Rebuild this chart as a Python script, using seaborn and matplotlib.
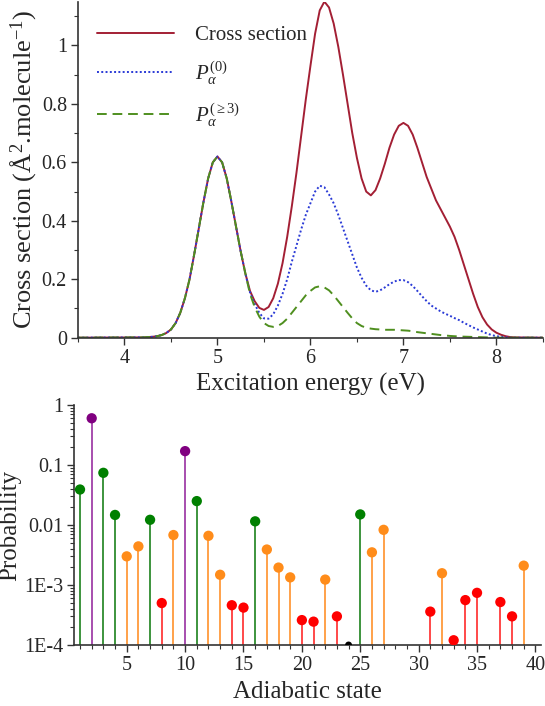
import matplotlib
matplotlib.use('Agg')
import matplotlib.pyplot as plt
import matplotlib.ticker as mticker
import pandas as pd
import seaborn as sns

# --- top panel: cross section vs excitation energy ---
energy = [3.5,
          4.20, 4.25, 4.30, 4.35, 4.40, 4.45, 4.50, 4.55, 4.60, 4.65,
          4.70, 4.75, 4.80, 4.85, 4.90, 4.95, 5.00, 5.05, 5.10, 5.15,
          5.20, 5.25, 5.30, 5.35, 5.40, 5.45, 5.50, 5.55, 5.60, 5.65,
          5.70, 5.75, 5.80, 5.85, 5.90, 5.95, 6.00, 6.05, 6.10, 6.15,
          6.20, 6.25, 6.30, 6.35, 6.40, 6.45, 6.50, 6.55, 6.60, 6.65,
          6.70, 6.75, 6.80, 6.85, 6.90, 6.95, 7.00, 7.05, 7.10, 7.15,
          7.20, 7.25, 7.30, 7.35, 7.40, 7.45, 7.50, 7.55, 7.60, 7.65,
          7.70, 7.75, 7.80, 7.85, 7.90, 7.95, 8.00, 8.05, 8.10, 8.15,
          8.20, 8.5]
cross_section = [0,
                 0.001, 0.002, 0.003, 0.005, 0.009, 0.016, 0.028, 0.05, 0.085, 0.135,
                 0.2, 0.285, 0.375, 0.465, 0.545, 0.6, 0.62, 0.6, 0.545, 0.465,
                 0.38, 0.295, 0.22, 0.16, 0.125, 0.102, 0.095, 0.105, 0.135, 0.185,
                 0.255, 0.345, 0.45, 0.565, 0.69, 0.815, 0.93, 1.04, 1.12, 1.15,
                 1.13, 1.075, 0.995, 0.9, 0.8, 0.7, 0.615, 0.545, 0.5, 0.487,
                 0.505, 0.545, 0.595, 0.65, 0.695, 0.725, 0.735, 0.725, 0.695, 0.65,
                 0.6, 0.55, 0.51, 0.47, 0.44, 0.41, 0.38, 0.345, 0.3, 0.25,
                 0.2, 0.15, 0.105, 0.07, 0.045, 0.028, 0.017, 0.01, 0.005, 0.002,
                 0.001, 0]
p_alpha_0 = [0,
             0.001, 0.002, 0.003, 0.005, 0.009, 0.016, 0.028, 0.05, 0.085, 0.135,
             0.2, 0.285, 0.375, 0.465, 0.545, 0.6, 0.62, 0.6, 0.545, 0.465,
             0.38, 0.295, 0.22, 0.155, 0.115, 0.085, 0.066, 0.065, 0.08, 0.11,
             0.15, 0.2, 0.26, 0.315, 0.37, 0.42, 0.46, 0.5, 0.52, 0.515,
             0.49, 0.46, 0.42, 0.375, 0.33, 0.285, 0.24, 0.205, 0.178, 0.162,
             0.157, 0.162, 0.172, 0.183, 0.192, 0.197, 0.197, 0.19, 0.177, 0.16,
             0.142, 0.125, 0.11, 0.1, 0.09, 0.082, 0.075, 0.067, 0.06, 0.051,
             0.043, 0.035, 0.028, 0.021, 0.014, 0.009, 0.005, 0.003, 0.001, 0,
             0, 0]
p_alpha_3 = [0,
             0.001, 0.002, 0.003, 0.005, 0.009, 0.016, 0.028, 0.05, 0.085, 0.135,
             0.2, 0.285, 0.375, 0.465, 0.545, 0.6, 0.62, 0.6, 0.545, 0.465,
             0.38, 0.295, 0.22, 0.15, 0.105, 0.072, 0.05, 0.04, 0.037, 0.04,
             0.05, 0.065, 0.085, 0.105, 0.125, 0.145, 0.16, 0.172, 0.176, 0.172,
             0.162, 0.145, 0.125, 0.105, 0.085, 0.066, 0.05, 0.04, 0.034, 0.031,
             0.029, 0.028, 0.027, 0.027, 0.027, 0.026, 0.025, 0.024, 0.022, 0.019,
             0.017, 0.015, 0.013, 0.011, 0.009, 0.0075, 0.006, 0.005, 0.004, 0.0035,
             0.003, 0.0025, 0.002, 0.0015, 0.001, 0.0005, 0, 0, 0, 0,
             0, 0]

# --- bottom panel: probability per adiabatic state ---
states = [1, 2, 3, 4, 5, 6, 7, 8, 9, 10, 11, 12, 13, 14, 15, 16, 17, 18, 19, 20,
          21, 22, 23, 24, 25, 26, 27, 31, 32, 33, 34, 35, 37, 38, 39]
probs = [0.039, 0.6, 0.074, 0.0147, 0.003, 0.0044, 0.0122, 0.0005, 0.0068, 0.17,
         0.025, 0.0066, 0.00148, 0.00046, 0.00042, 0.0115, 0.0039, 0.00195, 0.00134, 0.00026,
         0.000245, 0.00123, 0.0003, 0.0001, 0.015, 0.0035, 0.0083, 0.00036, 0.00157, 0.00012,
         0.00056, 0.00074, 0.00052, 0.0003, 0.0021]
groups = ['g', 'p', 'g', 'g', 'o', 'o', 'g', 'r', 'o', 'p',
          'g', 'o', 'o', 'r', 'r', 'g', 'o', 'o', 'o', 'r',
          'r', 'o', 'r', 'k', 'g', 'o', 'o', 'r', 'o', 'r',
          'r', 'r', 'r', 'r', 'o']

dot_colors = {'g': '#008000', 'p': '#800080', 'o': '#ff8c1a', 'r': '#ff0000', 'k': '#000000'}
stem_colors = {'g': '#2e8b2e', 'p': '#a040a8', 'o': '#ff9a3c', 'r': '#ff3a3a', 'k': '#000000'}
dot_sizes = {'g': 55, 'p': 55, 'o': 55, 'r': 55, 'k': 25}

sns.set_style('ticks')
plt.rcParams['font.family'] = ['Liberation Serif', 'DejaVu Serif']
plt.rcParams['mathtext.fontset'] = 'custom'
plt.rcParams['mathtext.rm'] = 'Liberation Serif'
plt.rcParams['mathtext.it'] = 'Liberation Serif:italic'
plt.rcParams['mathtext.bf'] = 'Liberation Serif:bold'

fig = plt.figure(figsize=(5.45, 7.06), dpi=100)
ax1 = fig.add_axes([0.1431, 0.5217, 0.853, 0.476])
ax2 = fig.add_axes([0.1361, 0.0864, 0.857, 0.340])

df_top = pd.DataFrame({'energy': energy, 'cs': cross_section, 'p0': p_alpha_0, 'p3': p_alpha_3})
sns.lineplot(data=df_top, x='energy', y='cs', ax=ax1, color='#a31f34', lw=1.4, label='Cross section')
sns.lineplot(data=df_top, x='energy', y='p0', ax=ax1, color='#2a3ad6', lw=1.4,
             linestyle=(0, (1, 1.2)), label=r'$P_\alpha^{(0)}$')
sns.lineplot(data=df_top, x='energy', y='p3', ax=ax1, color='#4f8f1f', lw=1.4,
             linestyle=(0, (5, 3)), label=r'$P_\alpha^{(\geq3)}$')

ax1.set_xlim(3.5, 8.5)
ax1.set_ylim(0, 1.15)
ax1.xaxis.set_major_locator(mticker.MultipleLocator(1))
ax1.xaxis.set_minor_locator(mticker.MultipleLocator(0.5))
ax1.yaxis.set_major_locator(mticker.FixedLocator([0, 0.2, 0.4, 0.6, 0.8, 1.0]))
ax1.yaxis.set_minor_locator(mticker.MultipleLocator(0.1))
ax1.yaxis.set_major_formatter(mticker.FuncFormatter(lambda v, p: '%g' % v))
ax1.set_xlabel('Excitation energy (eV)', fontsize=18, labelpad=4)
ax1.set_ylabel('Cross section (Å$^{2}$.molecule$^{-1}$)', fontsize=19, labelpad=2)
ax1.legend(loc='upper left', bbox_to_anchor=(0.0, 0.985), frameon=False, fontsize=15,
           handlelength=3.7, labelspacing=0.68, handletextpad=1.0)

for x, y, g in zip(states, probs, groups):
    ax2.vlines(x, 1e-4, y, color=stem_colors[g], lw=1.3, zorder=2)
df_bot = pd.DataFrame({'state': states, 'prob': probs, 'group': groups})
sns.scatterplot(data=df_bot, x='state', y='prob', hue='group', palette=dot_colors,
                size='group', sizes=dot_sizes, ax=ax2,
                edgecolor='none', legend=False, zorder=3)

ax2.set_yscale('log')
ax2.set_ylim(1e-4, 1)
ax2.set_xlim(0.5, 40.5)
ax2.set_yticks([1e-4, 1e-3, 1e-2, 1e-1, 1])
ax2.set_yticklabels(['1E-4', '1E-3', '0.01', '0.1', '1'])
ax2.yaxis.set_minor_locator(mticker.LogLocator(base=10, subs=range(2, 10)))
ax2.yaxis.set_minor_formatter(mticker.NullFormatter())
ax2.xaxis.set_major_locator(mticker.MultipleLocator(5))
ax2.xaxis.set_minor_locator(mticker.MultipleLocator(1))
ax2.set_xlabel('Adiabatic state', fontsize=18, labelpad=4)
ax2.set_ylabel('Probability', fontsize=18, labelpad=2)

for ax in (ax1, ax2):
    sns.despine(ax=ax)
    for sp in ('left', 'bottom'):
        ax.spines[sp].set_color('#333333')
        ax.spines[sp].set_linewidth(1.2)
    ax.tick_params(which='major', length=5, width=1, color='#333333', labelsize=14.5, pad=3)
    ax.tick_params(which='minor', length=3, width=0.8, color='#333333')

fig.savefig('out.png', dpi=100)
